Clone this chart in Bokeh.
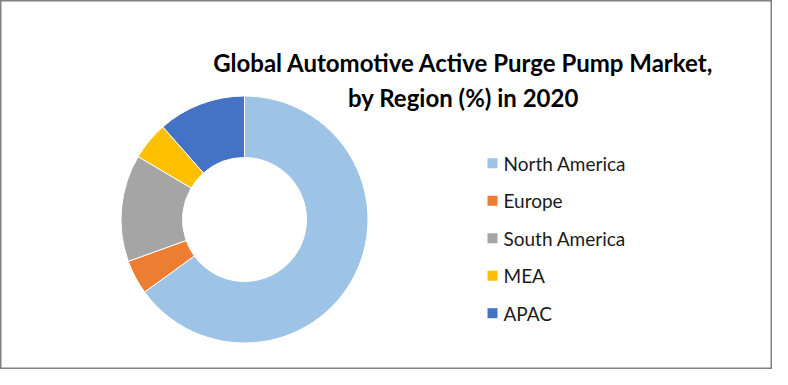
import math
from bokeh.plotting import figure
from bokeh.models import ColumnDataSource
from bokeh.core.properties import value
from bokeh.embed import file_html
from bokeh.resources import INLINE

# ---- data ----
regions = ["North America", "Europe", "South America", "MEA", "APAC"]
shares = [65.0, 4.5, 14.0, 5.0, 11.5]
colors = ["#9DC3E6", "#ED7D31", "#A5A5A5", "#FFC000", "#4472C4"]
title_lines = ["Global Automotive Active Purge Pump Market,", "by Region (%) in 2020"]

W, H = 772, 369

p = figure(width=W, height=H, x_range=(0, W), y_range=(0, H),
           output_backend="svg", toolbar_location=None, min_border=0,
           tools="")
p.axis.visible = False
p.grid.visible = False
p.outline_line_color = "#808080"
p.outline_line_width = 2
p.background_fill_color = "white"
p.border_fill_color = "white"

# donut
total = sum(shares)
starts, ends = [], []
cum = 0.0
for s in shares:
    starts.append(math.pi / 2 - 2 * math.pi * cum / total)
    cum += s
    ends.append(math.pi / 2 - 2 * math.pi * cum / total)

cx, cy = 244, H - 219
src = ColumnDataSource(dict(start=starts, end=ends, color=colors, region=regions))
p.annular_wedge(x=cx, y=cy, inner_radius=62, outer_radius=123.5,
                inner_radius_units="screen", outer_radius_units="screen",
                start_angle="start", end_angle="end", direction="clock",
                fill_color="color", line_color="white", line_width=1, source=src)

# title
p.text(x=[463, 463], y=[H - 62, H - 96.7], text=title_lines,
       text_font=value("Lato"), text_font_style="bold", text_font_size="24px",
       text_align="center", text_baseline="alphabetic", text_color="black")

# legend
ly = [H - (162.7 + 37.5 * i) for i in range(len(regions))]
p.rect(x=[492] * len(regions), y=ly, width=10, height=10,
       width_units="screen", height_units="screen",
       fill_color=colors, line_color=None)
p.text(x=[503] * len(regions), y=ly, text=regions,
       text_font=value("Lato"), text_font_size="19px",
       text_align="left", text_baseline="middle", text_color="#1a1a1a")

open("out.html", "w").write(file_html(p, INLINE))
